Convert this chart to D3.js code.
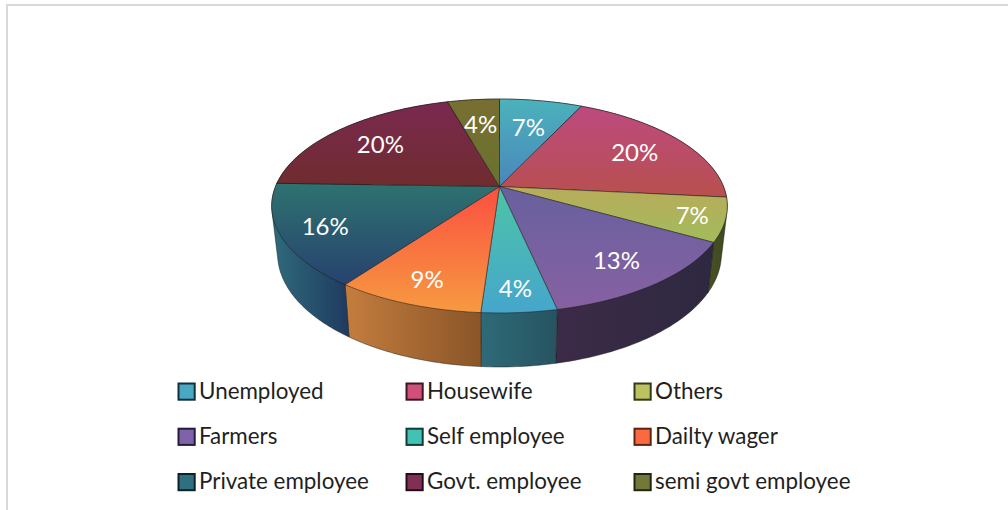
<!DOCTYPE html>
<html>
<head>
<meta charset="utf-8">
<script src="https://cdn.jsdelivr.net/npm/d3@7/dist/d3.min.js"></script>
<style>
  html, body { margin: 0; padding: 0; background: #fff; overflow: hidden; }
  text { font-family: Lato, "Open Sans", sans-serif; }
</style>
</head>
<body>
<svg id="chart" width="1008" height="510"></svg>
<script>
// Occupation shares, clockwise from twelve o'clock
const categories = ["Unemployed", "Housewife", "Others", "Farmers", "Self employee",
                    "Dailty wager", "Private employee", "Govt. employee", "semi govt employee"];
const shares = [7.0, 19.6, 6.6, 13.4, 4.49, 8.91, 15.5, 20.1, 4.4];

// Vertical shading of each top face: far edge, near edge
const topFar  = ["#4bb2bb", "#bd4a80", "#b8ab5a", "#68609e", "#4cc4a6", "#fb4f40", "#2e7270", "#7a2950", "#786e32"];
const topNear = ["#4a86bb", "#b8504e", "#a2bc5c", "#8661a2", "#46a6cc", "#f69a40", "#27426e", "#6f2c2e", "#6a7230"];
// Horizontal shading of each rim: left, right
const rimLeft  = ["#2f6a78", "#6e2a48", "#4a5024", "#3c2b48", "#2f6a78", "#c47d3e", "#2f6b7c", "#4a1c30", "#4a4a20"];
const rimRight = ["#2f6a78", "#6e2a48", "#3c4a20", "#2e2840", "#265460", "#8a5528", "#1f3a60", "#4a1c30", "#4a4a20"];
// Legend swatches: fill and outline
const swatchFill = ["#49a9c2", "#d24f7c", "#bcc262", "#8062a8", "#42c2b2", "#fa6a40", "#2f7080", "#803052", "#72783a"];
const swatchEdge = ["#12303c", "#3c1526", "#333a16", "#241c3a", "#123a38", "#5e2412", "#0c2228", "#260c1a", "#23260c"];

// How far out along its mid-angle each percentage sits, as a fraction of the disc radius
const labelReach = [0.66, 0.74, 0.86, 0.78, 0.83, 0.815, 0.81, 0.73, 0.69];

const legendColumns = [178, 406, 634];
const legendRows = [391.5, 436.7, 482];

const svg = d3.select("#chart");
const defs = svg.append("defs");

// Perspective projection of the unit disc onto the page
const centre = { x: 499.5, y: 186.5 };
const radiusX = 224, radiusY = 103.4, tilt = 0.1823;
const rimScaleX = 0.974, rimScaleY = 1.057, rimDrop = 46.8;

function project(angle, r = 1) {
  const u = r * Math.sin(angle), v = -r * Math.cos(angle);
  const w = 1 - tilt * v;
  return [radiusX * u / w, radiusY * v / w];
}
const topPoint = a => {
  const [x, y] = project(a);
  return [centre.x + x, centre.y + y];
};
const rimPoint = a => {
  const [x, y] = project(a);
  return [centre.x + rimScaleX * x, centre.y + rimScaleY * y + rimDrop];
};
const labelPoint = (s, i) => {
  const [x, y] = project((s.startAngle + s.endAngle) / 2, labelReach[i]);
  return [centre.x + x, centre.y + y];
};

const slices = d3.pie().sort(null).value(d => d)(shares);
const line = d3.line();

function arcAngles(s) {
  const n = Math.max(8, Math.ceil((s.endAngle - s.startAngle) * 60));
  return d3.range(n + 1).map(i => s.startAngle + (s.endAngle - s.startAngle) * i / n);
}

function gradient(id, from, to, vertical) {
  const g = defs.append("linearGradient").attr("id", id)
    .attr("x1", 0).attr("y1", 0)
    .attr("x2", vertical ? 0 : 1).attr("y2", vertical ? 1 : 0);
  g.append("stop").attr("offset", 0).attr("stop-color", from);
  g.append("stop").attr("offset", 1).attr("stop-color", to);
}
categories.forEach((c, i) => {
  gradient("face" + i, topFar[i], topNear[i], true);
  gradient("rim" + i, rimLeft[i], rimRight[i], false);
});

// Panel frame: only the top and left edges are visible
svg.append("line").attr("x1", 6).attr("x2", 1008).attr("y1", 5).attr("y2", 5)
  .attr("stroke", "#d9d9d9").attr("stroke-width", 2);
svg.append("line").attr("x1", 7).attr("x2", 7).attr("y1", 5).attr("y2", 510)
  .attr("stroke", "#d9d9d9").attr("stroke-width", 2);

// Rims first, as hulls of the outer wall; the top faces cover anything behind
svg.append("g").selectAll("path").data(slices).join("path")
  .attr("d", s => {
    const angles = arcAngles(s);
    const pts = angles.map(topPoint).concat(angles.map(rimPoint));
    return line(d3.polygonHull(pts)) + "Z";
  })
  .attr("fill", (s, i) => `url(#rim${i})`)
  .attr("stroke", "#1a1a1a").attr("stroke-opacity", 0.6).attr("stroke-width", 0.8);

// Top faces
svg.append("g").selectAll("path").data(slices).join("path")
  .attr("d", s => line([[centre.x, centre.y], ...arcAngles(s).map(topPoint)]) + "Z")
  .attr("fill", (s, i) => `url(#face${i})`)
  .attr("stroke", "#1a1a1a").attr("stroke-opacity", 0.65).attr("stroke-width", 0.8)
  .attr("stroke-linejoin", "round");

// Percentage labels
svg.append("g").selectAll("text").data(slices).join("text")
  .attr("x", (s, i) => labelPoint(s, i)[0])
  .attr("y", (s, i) => labelPoint(s, i)[1])
  .attr("text-anchor", "middle").attr("dominant-baseline", "central")
  .attr("fill", "#fff").attr("font-size", 24)
  .text(s => Math.round(s.value) + "%");

// Legend, three to a row
const legend = svg.append("g").selectAll("g").data(categories).join("g")
  .attr("transform", (c, i) => `translate(${legendColumns[i % 3]},${legendRows[Math.floor(i / 3)]})`);
legend.append("rect")
  .attr("x", 0.5).attr("y", -8).attr("width", 16.2).attr("height", 16.2)
  .attr("fill", (c, i) => swatchFill[i])
  .attr("stroke", (c, i) => swatchEdge[i]).attr("stroke-width", 2);
legend.append("text")
  .attr("x", 21).attr("y", -1.2).attr("dominant-baseline", "central")
  .attr("fill", "#1f1f1f").attr("font-size", 22.4)
  .text(c => c);
</script>
</body>
</html>
